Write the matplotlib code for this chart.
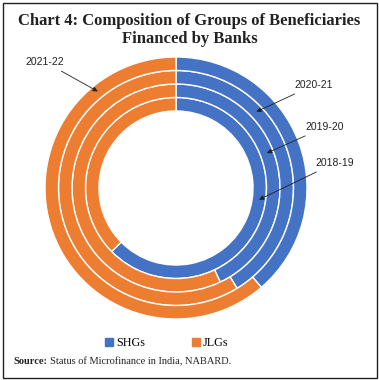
import numpy as np
import matplotlib
matplotlib.use("Agg")
import matplotlib.pyplot as plt
from matplotlib.patches import Patch, Rectangle

# Data (share of SHGs in groups financed, per year; rest JLGs)
years = ["2018-19", "2019-20", "2020-21", "2021-22"]  # inner -> outer
shg_share = [0.626, 0.430, 0.413, 0.387]
jlg_share = [1 - s for s in shg_share]
series = ["SHGs", "JLGs"]
colors = ["#4472C4", "#ED7D31"]

W, H = 379, 380
fig = plt.figure(figsize=(W / 100, H / 100), dpi=100)
fig.patch.set_facecolor("white")

# frame around figure
fig.add_artist(Rectangle((2.5 / W, 2.5 / H), (W - 5) / W, (H - 5) / H,
                         transform=fig.transFigure, fill=False,
                         edgecolor="#222222", lw=1.0))

# title
fig.text(0.5, 1 - 30 / H, "Chart 4: Composition of Groups of Beneficiaries\nFinanced by Banks",
         ha="center", va="center", fontsize=12.0, fontweight="bold",
         family="Liberation Serif", linespacing=1.2, color="#222222")

# pie axes
cx, cy, R = 176, 188, 131
ax = fig.add_axes([(cx - R) / W, (H - cy - R) / H, 2 * R / W, 2 * R / H])
ax.set_xlim(-1, 1)
ax.set_ylim(-1, 1)
ax.set_aspect("equal")
ax.axis("off")

inner = 0.588
width = (1 - inner) / len(years)
for i, yr in enumerate(years):
    r = inner + width * (i + 1)
    ax.pie([shg_share[i], jlg_share[i]], radius=r, colors=colors,
           startangle=90, counterclock=False,
           wedgeprops=dict(width=width, edgecolor="white", linewidth=1.0))
ax.set_xlim(-1, 1)
ax.set_ylim(-1, 1)

# annotations
label_angles = {"2018-19": 98, "2019-20": 69, "2020-21": 46.5, "2021-22": 321}
label_pos = {"2018-19": (335, 163), "2019-20": (325, 127),
             "2020-21": (314, 85), "2021-22": (45, 62)}
for i, yr in enumerate(years):
    rmid = inner + width * (i + 0.5)
    a = np.deg2rad(90 - label_angles[yr])
    tx, ty = rmid * np.cos(a), rmid * np.sin(a)
    lx, ly = label_pos[yr]
    ax.annotate(yr, xy=(tx, ty), xycoords="data",
                xytext=(lx / W, 1 - ly / H), textcoords="figure fraction",
                ha="center", va="center", fontsize=7.5,
                family="Liberation Sans", color="#222222",
                arrowprops=dict(arrowstyle="-|>", color="#222222", lw=0.6,
                                mutation_scale=7, shrinkA=2, shrinkB=0))

# legend
handles = [Patch(facecolor=c, edgecolor=c) for c in colors]
leg = fig.legend(handles, series, loc="center",
                 bbox_to_anchor=(167 / W, 1 - 343 / H), ncol=2, frameon=False,
                 handlelength=0.65, handleheight=0.65, handletextpad=0.25,
                 columnspacing=3.9, prop={"family": "Liberation Serif", "size": 8.7})

# source
t1 = fig.text(13 / W, 1 - 362 / H, "Source:", ha="left", va="center",
              fontsize=7.5, fontweight="bold", family="Liberation Serif", color="#222222")
fig.canvas.draw()
bb = t1.get_window_extent()
fig.text((bb.x1 + 3) / W, 1 - 362 / H, "Status of Microfinance in India, NABARD.",
         ha="left", va="center", fontsize=7.5, family="Liberation Serif", color="#222222")

fig.savefig("out.png", dpi=100)
